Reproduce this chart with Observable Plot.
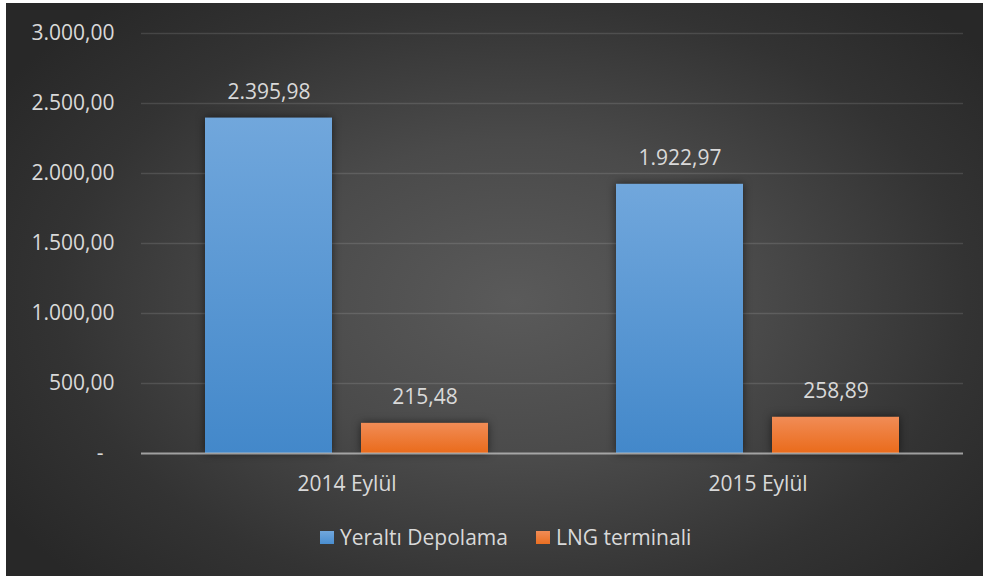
<!DOCTYPE html>
<html>
<head>
<meta charset="utf-8">
<script src="https://cdn.jsdelivr.net/npm/d3@7"></script>
<script src="https://cdn.jsdelivr.net/npm/@observablehq/plot@0.6"></script>
<style>
  html, body { margin: 0; padding: 0; background: #ffffff; }
  #chart {
    position: absolute; left: 6px; top: 3px; width: 977px; height: 573px; overflow: hidden;
    background: radial-gradient(ellipse 62% 70% at 52% 52%, #5a5a5a 0%, #4a4a4a 40%, #333333 75%, #282828 100%);
    font-family: "Open Sans", "Noto Sans", sans-serif;
  }
  #chart svg { position: absolute; left: 0; top: 0; }
  #chart svg text { font-family: "Open Sans", "Noto Sans", sans-serif; font-size: 21px; fill: #d9d9d9; }
  .legend-item { position: absolute; top: 520px; height: 28px; display: flex; align-items: center;
    color: #d9d9d9; font-size: 21px; white-space: nowrap; }
  .legend-swatch { width: 14px; height: 13px; margin-right: 6px; }
</style>
</head>
<body>
<div id="chart"></div>
<script>
// ---- data ----
const periods = ["2014 Eylül", "2015 Eylül"];
const seriesNames = ["Yeraltı Depolama", "LNG terminali"];
const yeraltiValues = [2395.98, 1922.97];
const lngValues = [215.48, 258.89];
const yTicks = [0, 500, 1000, 1500, 2000, 2500, 3000];

const rows = periods.flatMap((p, i) => [
  {period: p, series: seriesNames[0], value: yeraltiValues[i]},
  {period: p, series: seriesNames[1], value: lngValues[i]}
]);

const trLocale = d3.formatLocale({decimal: ",", thousands: ".", grouping: [3], currency: ["", "₺"]});
const num = trLocale.format(",.2f");
const tickFmt = d => d === 0 ? "-\u00a0\u00a0" : num(d);

const svg = Plot.plot({
  width: 977,
  height: 510,
  marginLeft: 134,
  marginRight: 20,
  marginTop: 30,
  marginBottom: 60,
  style: {background: "transparent", color: "#d9d9d9", fontFamily: "Open Sans", fontSize: "21px", overflow: "visible"},
  facet: {data: rows, x: "period"},
  fx: {domain: periods, padding: 0, label: null, axis: "bottom", tickSize: 0, tickPadding: 23},
  x: {domain: seriesNames, paddingInner: 0.1847, paddingOuter: 0.403, axis: null},
  y: {domain: [0, 3000], ticks: yTicks, tickFormat: tickFmt, label: null, tickSize: 0, tickPadding: 27},
  color: {domain: seriesNames, range: ["url(#gradBlue)", "url(#gradOrange)"]},
  marks: [
    Plot.ruleY(yTicks.filter(d => d > 0), {stroke: "#ffffff", strokeOpacity: 0.12, strokeWidth: 1.5}),
    Plot.barY(rows, {x: "series", y: "value", fill: "series"}),
    Plot.ruleY([0], {stroke: "#c4c4c4", strokeOpacity: 0.75, strokeWidth: 2.2}),
    Plot.text(rows, {x: "series", y: "value", text: d => num(d.value), dy: -26, fill: "#d9d9d9"})
  ]
});

// gradients for the bars
const NS = "http://www.w3.org/2000/svg";
const defs = document.createElementNS(NS, "defs");
function addGrad(id, top, bottom) {
  const g = document.createElementNS(NS, "linearGradient");
  g.setAttribute("id", id);
  g.setAttribute("x1", "0"); g.setAttribute("y1", "0");
  g.setAttribute("x2", "0"); g.setAttribute("y2", "1");
  [[0, top], [1, bottom]].forEach(([o, c]) => {
    const s = document.createElementNS(NS, "stop");
    s.setAttribute("offset", o);
    s.setAttribute("stop-color", c);
    g.appendChild(s);
  });
  defs.appendChild(g);
}
addGrad("gradBlue", "#71a7dc", "#4388ca");
addGrad("gradOrange", "#f18c56", "#ea6b1b");
svg.insertBefore(defs, svg.firstChild);

svg.querySelectorAll('g[aria-label="bar"] rect').forEach(r => {
  r.style.filter = "drop-shadow(0px 0px 4px rgba(0,0,0,0.55))";
});

const chart = document.getElementById("chart");
chart.appendChild(svg);

// legend
const legendItems = [
  {name: seriesNames[0], color: "#5b9bd5", left: 314},
  {name: seriesNames[1], color: "#ed7d31", left: 530}
];
legendItems.forEach(it => {
  const div = document.createElement("div");
  div.className = "legend-item";
  div.style.left = it.left + "px";
  const sw = document.createElement("span");
  sw.className = "legend-swatch";
  sw.style.background = it.name === seriesNames[0]
    ? "linear-gradient(#71a7dc, #4a8ed0)" : "linear-gradient(#f18c56, #ea6f22)";
  const tx = document.createElement("span");
  tx.textContent = it.name;
  div.appendChild(sw);
  div.appendChild(tx);
  chart.appendChild(div);
});
</script>
</body>
</html>
